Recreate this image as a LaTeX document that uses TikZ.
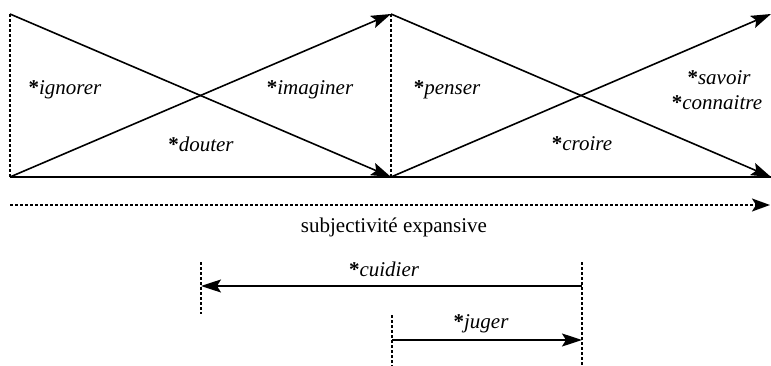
\documentclass[tikz,border=0pt]{standalone}
\usepackage{fontspec}
\setmainfont{Liberation Serif}
\usetikzlibrary{arrows.meta}
\begin{document}
\begin{tikzpicture}[x=1pt,y=-1pt,
  solidline/.style={line width=1.6pt},
  arrowline/.style={line width=1.6pt,-{Stealth[length=20pt,width=13pt,inset=4pt]}},
  dotline/.style={line width=1.7pt,dash pattern=on 3pt off 2pt},
  verb/.style={font=\fontsize{21}{24}\selectfont\itshape,inner sep=1pt},
  plain/.style={font=\fontsize{21}{24}\selectfont,inner sep=1pt}]
\useasboundingbox (0,0) rectangle (771,366);
\newcommand{\vb}[1]{{\upshape\bfseries *}#1}
% corners of the two crossed pairs
\coordinate (a0) at (10,14);
\coordinate (b0) at (10,177);
\coordinate (a1) at (391,14);
\coordinate (b1) at (391,177);
\coordinate (a2) at (771,14);
\coordinate (b2) at (771,177);
% dotted borders
\draw[dotline] (a0) -- (b0);
\draw[dotline] (a1) -- (b1);
% base line
\draw[solidline] (b0) -- (b2);
% crossing arrows
\draw[arrowline] (a0) -- (b1);
\draw[arrowline] (b0) -- (a1);
\draw[arrowline] (a1) -- (b2);
\draw[arrowline] (b1) -- (a2);
% labels
\node[verb] (ign) at (65,90) {\vb{ignorer}};
\node[verb] (ima) at (310,90) {\vb{imaginer}};
\node[verb] (dou) at (201,144) {\vb{douter}};
\node[verb] (pen) at (447,90) {\vb{penser}};
\node[verb] (cro) at (582,144) {\vb{croire}};
\node[verb] (sav) at (719,78) {\vb{savoir}};
\node[verb] (con) at (717,103) {\vb{connaitre}};
% expansive scale
\coordinate (s0) at (10,205);
\coordinate (s1) at (770,205);
\draw[dotline,-{Stealth[length=18pt,width=13pt,inset=4pt]}] (s0) -- (s1);
\node[plain] (subj) at (394,227) {subjectivité expansive};
% cuidier / juger ranges
\coordinate (c0t) at (201,262);
\coordinate (c0b) at (201,314);
\coordinate (c1t) at (582,262);
\coordinate (c1b) at (582,366);
\coordinate (j0t) at (392,315);
\coordinate (j0b) at (392,366);
\draw[dotline] (c0t) -- (c0b);
\draw[dotline] (c1t) -- (c1b);
\draw[dotline] (j0t) -- (j0b);
\coordinate (cr) at (582,286);
\coordinate (cl) at (201,286);
\coordinate (jl) at (392,340);
\coordinate (jr) at (582,340);
\draw[arrowline] (cr) -- (cl);
\draw[arrowline] (jl) -- (jr);
\node[verb] (cui) at (384,269) {\vb{cuidier}};
\node[verb] (jug) at (481,324) {\vb{juger}};
\end{tikzpicture}
\end{document}
